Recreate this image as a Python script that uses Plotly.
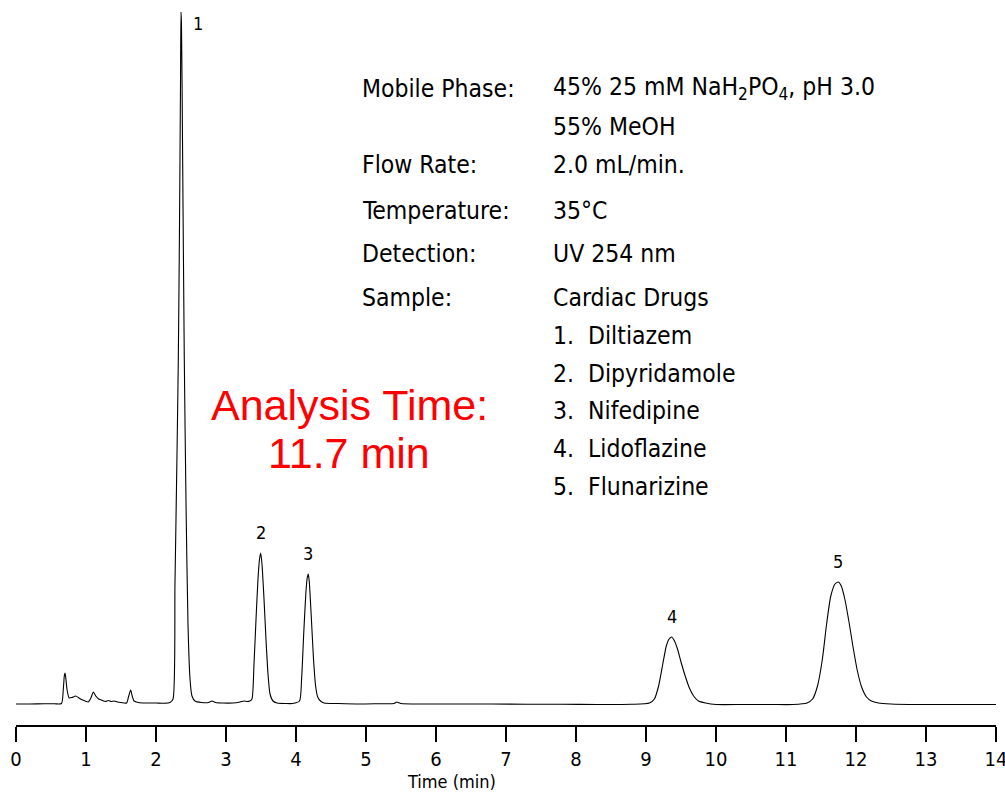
import plotly.graph_objects as go

# Detector trace, hand-read from the run (time in min, signal in arbitrary units)
time_min = [
    0.00, 0.20, 0.40, 0.55, 0.65, 0.676, 0.69, 0.70, 0.71, 0.73, 0.76, 0.80, 0.853, 0.90, 0.95, 1.03,
    1.07, 1.105, 1.14, 1.18, 1.22, 1.28, 1.32, 1.36, 1.40, 1.45, 1.50, 1.58, 1.61, 1.638, 1.66, 1.686,
    1.75, 1.85, 2.00, 2.10, 2.20, 2.243, 2.271, 2.300, 2.319, 2.336, 2.350, 2.357, 2.364, 2.379, 2.404,
    2.429, 2.457, 2.486, 2.514, 2.557, 2.65, 2.75, 2.80, 2.85, 2.95, 3.10, 3.20, 3.26, 3.30, 3.34,
    3.371, 3.400, 3.429, 3.457, 3.479, 3.496, 3.514, 3.543, 3.571, 3.600, 3.629, 3.671, 3.73, 3.85, 3.95,
    4.05, 4.08, 4.11, 4.14, 4.16, 4.176, 4.19, 4.22, 4.25, 4.28, 4.31, 4.35, 4.40, 4.60, 4.90, 5.20,
    5.40, 5.44, 5.50, 5.80, 6.30, 6.80, 7.30, 7.80, 8.30, 8.80, 9.05, 9.12, 9.18, 9.24, 9.29, 9.33,
    9.367, 9.40, 9.45, 9.50, 9.56, 9.62, 9.68, 9.75, 9.85, 10.00, 10.40, 10.80, 11.10, 11.30, 11.38,
    11.45, 11.52, 11.58, 11.64, 11.70, 11.747, 11.79, 11.84, 11.90, 11.96, 12.02, 12.08, 12.15, 12.22,
    12.32, 12.50, 12.90, 13.30, 13.70, 14.00,
]
signal = [
    0.0, 0.0, 0.3, 0.2, 0.5, 15.0, 28.0, 31.0, 27.0, 14.0, 6.0, 6.5, 8.0, 6.0, 4.0, 2.0,
    6.0, 12.0, 8.0, 5.0, 4.0, 2.5, 3.5, 2.5, 3.0, 2.0, 1.5, 1.0, 8.0, 14.0, 8.0, 3.0,
    1.5, 1.0, 1.0, 0.8, 1.5, 5.0, 120.0, 250.0, 346.0, 480.0, 620.0, 692.0, 680.0, 560.0, 346.0,
    200.0, 80.0, 25.0, 8.0, 3.0, 1.5, 1.5, 3.0, 1.5, 1.0, 1.0, 2.0, 3.0, 2.5, 3.0,
    5.0, 40.0, 85.0, 125.0, 145.0, 151.0, 140.0, 105.0, 65.0, 30.0, 10.0, 3.0, 1.0, 0.5, 0.5,
    3.0, 25.0, 70.0, 110.0, 126.0, 130.0, 122.0, 85.0, 45.0, 18.0, 7.0, 3.0, 1.0, 0.5, 0.0, 0.3,
    0.5, 2.0, 0.5, 0.0, 0.0, 0.0, -0.3, -0.3, -0.5, -0.3, 1.0, 5.0, 18.0, 40.0, 58.0, 65.0,
    67.0, 64.0, 55.0, 42.0, 28.0, 16.0, 8.0, 3.0, 1.0, -0.5, -0.5, -0.5, -0.5, 1.0, 5.0,
    18.0, 45.0, 80.0, 108.0, 120.0, 122.0, 118.0, 105.0, 82.0, 56.0, 33.0, 17.0, 7.0, 3.0,
    1.0, 0.0, -0.5, -0.5, -0.5, -0.5,
]

# Peak numbering at each apex
peak_ids = ["1", "2", "3", "4", "5"]
peak_rt = [2.357, 3.496, 4.176, 9.367, 11.747]
peak_height = [692.0, 151.0, 130.0, 67.0, 122.0]

# Method conditions
cond_labels = ["Mobile Phase:", "", "Flow Rate:", "Temperature:", "Detection:", "Sample:",
               "", "", "", "", ""]
cond_values = ["45% 25 mM NaH<sub>2</sub>PO<sub>4</sub>, pH 3.0", "55% MeOH", "2.0 mL/min.",
               "35\u00b0C", "UV 254 nm", "Cardiac Drugs",
               "1.&nbsp; Diltiazem", "2.&nbsp; Dipyridamole", "3.&nbsp; Nifedipine",
               "4.&nbsp; Lidoflazine", "5.&nbsp; Flunarizine"]

tick_vals = list(range(0, 15))

W, H = 1005, 792
ML, MR, MT, MB = 16, 9, 5, 67
plot_h = H - MT - MB
COND_FONT = "DejaVu Sans Condensed, Liberation Sans Narrow, Arial Narrow, sans-serif"


def py_to_paper(py):
    return (H - MB - py) / plot_h


def px_to_paper(px):
    return (px - ML) / (W - ML - MR)


fig = go.Figure()
fig.add_trace(go.Scatter(
    x=time_min, y=signal, mode="lines",
    line=dict(color="black", width=1.1, shape="spline", smoothing=0.6),
    hoverinfo="skip", showlegend=False,
))

annotations = []
# peak numbers
for i, (pid, rt, h) in enumerate(zip(peak_ids, peak_rt, peak_height)):
    if i == 0:
        annotations.append(dict(x=rt, y=h, xref="x", yref="y", text=pid, showarrow=False,
                                xanchor="left", yanchor="top", xshift=10, yshift=1,
                                font=dict(family=COND_FONT, size=18, color="black")))
    else:
        annotations.append(dict(x=rt, y=h, xref="x", yref="y", text=pid, showarrow=False,
                                xanchor="center", yanchor="bottom", yshift=8,
                                font=dict(family=COND_FONT, size=18, color="black")))

row_y = [88, 127, 164, 210, 253, 297, 335, 373, 410, 448, 486]
for lab, val, ry in zip(cond_labels, cond_values, row_y):
    if lab:
        annotations.append(dict(x=px_to_paper(360), y=py_to_paper(ry), xref="paper", yref="paper",
                                text=lab, showarrow=False, xanchor="left", yanchor="middle",
                                font=dict(family=COND_FONT, size=24.5, color="black")))
    annotations.append(dict(x=px_to_paper(551), y=py_to_paper(ry), xref="paper", yref="paper",
                            text=val, showarrow=False, xanchor="left", yanchor="middle",
                            font=dict(family=COND_FONT, size=24.5, color="black")))

for txt, ry in [("Analysis Time:", 405), ("11.7 min", 453)]:
    annotations.append(dict(x=px_to_paper(349), y=py_to_paper(ry), xref="paper", yref="paper",
                            text=txt, showarrow=False, xanchor="center", yanchor="middle",
                            font=dict(family="Liberation Sans, Arial, sans-serif", size=43,
                                      color="#ff0000")))

annotations.append(dict(x=px_to_paper(451), y=py_to_paper(781), xref="paper", yref="paper",
                        text="Time (min)", showarrow=False, xanchor="center", yanchor="middle",
                        font=dict(family=COND_FONT, size=18, color="black")))

fig.update_layout(
    width=W, height=H,
    margin=dict(l=ML, r=MR, t=MT, b=MB, autoexpand=False),
    paper_bgcolor="white", plot_bgcolor="white",
    xaxis=dict(range=[0, 14], tickvals=tick_vals, ticktext=[str(v) for v in tick_vals],
               showline=True, linecolor="black", linewidth=1.5,
               ticks="outside", ticklen=15, tickwidth=1.5, tickcolor="black",
               showgrid=False, zeroline=False, ticklabeloverflow="allow", automargin=False,
               tickfont=dict(family=COND_FONT, size=20, color="black")),
    yaxis=dict(range=[-21, 699], visible=False, showgrid=False, zeroline=False),
    annotations=annotations,
)

fig.write_html("out.html")
